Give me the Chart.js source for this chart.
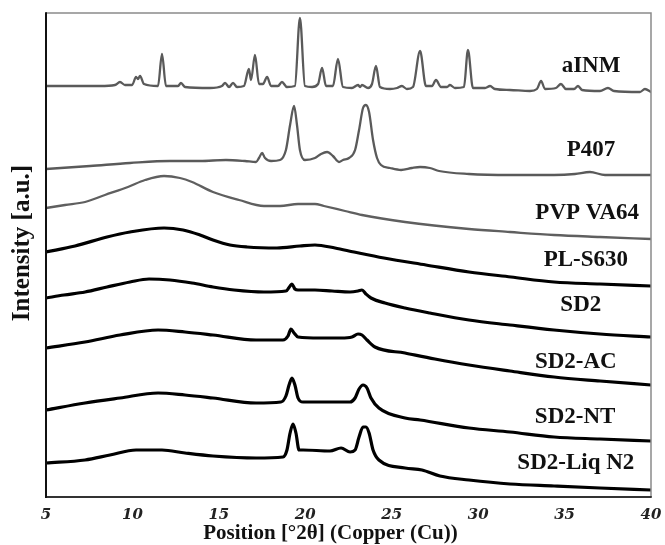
<!DOCTYPE html>
<html>
<head>
<meta charset="utf-8">
<script src="https://cdn.jsdelivr.net/npm/chart.js@4.4.1/dist/chart.umd.min.js"></script>
<style>
  html, body { margin: 0; padding: 0; background: #fff; }
  #wrap { width: 665px; height: 545px; }
</style>
</head>
<body>
<div id="wrap"><canvas id="c" width="665" height="545"></canvas></div>
<script>
// ---- Data (2θ in degrees, stacked intensity in a.u.) ----
const xTicks = [5, 10, 15, 20, 25, 30, 35, 40];
const seriesNames = ["aINM", "P407", "PVP VA64", "PL-S630", "SD2", "SD2-AC", "SD2-NT", "SD2-Liq N2"];

const aINM = [[5.0,411],[8.12,411],[8.99,412],[9.28,415],[9.57,412],[9.98,412],[10.21,420],[10.32,418],[10.44,421],[10.67,413],
  [11.48,411],[11.71,443],[11.94,411],[12.64,411],[12.81,414],[13.04,410],[14.49,409],[15.18,411],[15.36,414],[15.59,410],
  [15.82,414],[16.05,410],[16.45,411],[16.74,428],[16.86,417],[17.09,442],[17.32,413],[17.55,413],[17.79,420],[18.02,411],
  [18.42,411],[18.65,415],[18.94,410],[19.40,411],[19.69,479],[19.98,411],[20.39,410],[20.74,413],[20.97,429],[21.20,411],
  [21.60,411],[21.89,438],[22.18,410],[22.70,409],[23.05,412],[23.17,410],[23.28,412],[23.63,409],[23.86,413],[24.09,431],
  [24.32,410],[24.90,408],[25.31,409],[25.59,411],[25.88,408],[26.23,410],[26.64,446],[26.98,411],[27.33,411],[27.56,417],
  [27.85,410],[28.20,410],[28.37,412],[28.66,409],[29.18,410],[29.41,447],[29.70,409],[30.40,409],[30.69,411],[30.97,408],
  [31.84,407],[33.00,406],[33.40,408],[33.64,416],[33.87,408],[34.50,409],[34.79,413],[35.08,408],[35.55,408],[35.78,411],
  [36.01,407],[37.05,406],[37.51,409],[37.86,406],[39.36,405],[39.65,408],[40.0,405]];

const P407 = [[5.0,328],[7.55,331],[9.86,334],[12.17,336],[13.91,336],[15.41,337],[16.51,336],[17.15,335],[17.32,339],[17.50,344],
  [17.67,339],[18.02,336],[18.54,337],[18.88,347],[19.12,372],[19.35,391],[19.52,372],[19.69,347],[19.98,337],[20.56,339],
  [20.91,343],[21.26,345],[21.60,341],[21.95,335],[22.18,337],[22.53,339],[22.88,347],[23.11,367],[23.34,389],[23.51,392],
  [23.69,385],[23.92,357],[24.15,339],[24.38,332],[24.90,329],[25.54,327],[26.17,329],[26.64,330],[27.21,329],[27.74,326],
  [29.47,323],[31.84,322],[34.39,322],[35.60,323],[36.47,325],[37.34,322],[40.0,322]];

const PVPVA64 = [[5.0,289],[6.10,292],[7.26,295],[8.41,302],[9.74,310],[10.73,317],[11.83,321],[12.75,319],[13.45,315],[14.66,305],
  [16.17,297],[17.61,291],[18.54,291],[19.58,293],[20.56,293],[21.08,291],[22.30,286],[23.28,282],[25.77,275],[29.47,268],
  [31.84,265],[34.39,262],[37.05,260],[40.0,258]];

const PLS630 = [[5.0,245],[6.68,251],[8.53,260],[9.86,265],[11.83,269],[12.93,267],[13.91,262],[14.66,257],[15.64,252],[16.63,250],
  [18.36,249],[19.69,251],[20.56,252],[21.72,249],[22.82,245],[24.55,239],[26.98,232],[29.47,225],[31.90,220],[34.39,215],
  [37.05,213],[40.0,211]];

const SD2 = [[5.0,199],[6.04,202],[7.26,205],[8.53,210],[9.86,215],[10.96,218],[12.17,217],[13.45,214],[14.66,210],[15.88,207],
  [17.61,205],[18.88,206],[19.12,211],[19.23,213],[19.40,208],[19.58,207],[20.56,207],[21.55,206],[22.59,205],[23.05,206],
  [23.28,207],[23.51,203],[23.80,199],[24.61,194],[25.77,189],[27.21,184],[29.47,177],[31.84,172],[34.39,167],[37.05,163],
  [40.0,160]];

const SD2AC = [[5.0,149],[7.26,155],[9.28,162],[11.48,167],[13.04,165],[14.66,162],[17.15,157],[18.71,157],[19.0,161],[19.17,168],
  [19.35,164],[19.58,160],[20.85,159],[22.07,159],[22.70,160],[23.05,163],[23.28,162],[23.57,157],[24.03,150],[25.77,144],
  [27.50,138],[29.47,132],[31.84,126],[34.39,120],[37.05,116],[40.0,112]];

const SD2NT = [[5.0,87],[7.26,94],[9.28,99],[11.48,104],[13.04,102],[14.66,99],[17.15,94],[18.59,95],[18.88,101],[19.06,112],
  [19.23,119],[19.40,112],[19.58,99],[19.87,95],[21.43,95],[22.59,95],[22.88,99],[23.11,108],[23.34,112],[23.57,109],
  [23.80,99],[24.26,89],[25.77,79],[26.64,77],[29.47,69],[31.84,65],[34.39,60],[37.05,58],[40.0,56]];

const SD2LiqN2 = [[5.0,34],[7.26,37],[8.70,42],[10.21,47],[11.71,47],[13.04,44],[14.66,41],[17.15,39],[18.71,40],[18.94,47],
  [19.12,64],[19.29,73],[19.46,64],[19.64,47],[19.87,47],[21.43,46],[22.07,49],[22.59,45],[22.88,47],[23.11,60],
  [23.34,70],[23.51,70],[23.69,64],[23.92,47],[24.26,37],[25.77,29],[26.75,27],[27.79,21],[29.47,17],[31.84,13],
  [34.39,11],[37.05,9],[40.0,7]];

const allSeries = [aINM, P407, PVPVA64, PLS630, SD2, SD2AC, SD2NT, SD2LiqN2];

// ---- styling / layout (kept separate from data) ----
const lineColors = ["#5a5a5a", "#5a5a5a", "#5f5f5f", "#000", "#000", "#000", "#000", "#000"];
const lineWidths = [2.3, 2.3, 2.3, 3.2, 3.2, 3.2, 3.2, 3.2];
// label anchors in data units (2θ, intensity)
const labelAnchors = [[36.53,431],[36.53,347],[36.31,284],[36.23,237],[35.94,192],[35.65,135],[35.61,80],[35.65,34]];

const datasets = allSeries.map((s, i) => ({
  label: seriesNames[i],
  data: s.map(p => ({ x: p[0], y: p[1] })),
  borderColor: lineColors[i],
  borderWidth: lineWidths[i],
  pointRadius: 0,
  fill: false,
  cubicInterpolationMode: 'monotone',
  borderJoinStyle: 'round',
  borderCapStyle: 'round'
}));

const decor = {
  id: 'decor',
  afterDraw(chart) {
    const { ctx, chartArea: a, scales } = chart;
    ctx.save();
    // frame
    ctx.lineCap = 'butt';
    ctx.strokeStyle = '#8a8a8a'; ctx.lineWidth = 1.5;
    ctx.beginPath(); ctx.moveTo(a.left, a.top); ctx.lineTo(a.right, a.top); ctx.lineTo(a.right, a.bottom); ctx.stroke();
    ctx.strokeStyle = '#333'; ctx.lineWidth = 2;
    ctx.beginPath(); ctx.moveTo(a.left, a.bottom); ctx.lineTo(a.right + 0.75, a.bottom); ctx.stroke();
    ctx.strokeStyle = '#111'; ctx.lineWidth = 2;
    ctx.beginPath(); ctx.moveTo(a.left, a.top - 0.75); ctx.lineTo(a.left, a.bottom + 1); ctx.stroke();

    // series labels
    ctx.fillStyle = '#111';
    ctx.font = 'bold 23px "Liberation Serif", "Times New Roman", serif';
    ctx.textAlign = 'center'; ctx.textBaseline = 'middle';
    seriesNames.forEach((n, i) => {
      const px = scales.x.getPixelForValue(labelAnchors[i][0]);
      const py = scales.y.getPixelForValue(labelAnchors[i][1]);
      ctx.fillText(n, px, py);
    });

    // axis titles
    ctx.font = 'bold 21px "Liberation Serif", "Times New Roman", serif';
    ctx.fillText('Position [°2θ] (Copper (Cu))', (a.left + a.right) / 2 - 18, a.bottom + 37);
    ctx.translate(23, (a.top + a.bottom) / 2 - 12);
    ctx.rotate(-Math.PI / 2);
    ctx.font = 'bold 25px "Liberation Serif", "Times New Roman", serif';
    ctx.fillText('Intensity [a.u.]', 0, 0);
    ctx.restore();
  }
};

new Chart(document.getElementById('c'), {
  type: 'line',
  data: { datasets },
  options: {
    responsive: false,
    animation: false,
    devicePixelRatio: 1,
    layout: { padding: { left: 46, right: 14, top: 13, bottom: 0 } },
    plugins: { legend: { display: false }, tooltip: { enabled: false } },
    scales: {
      x: {
        type: 'linear', min: 5, max: 40,
        afterFit(scale) { scale.height = 48; scale.paddingLeft = 0; scale.paddingRight = 0; },
        afterBuildTicks(scale) { scale.ticks = xTicks.map(v => ({ value: v })); },
        grid: { display: false, drawTicks: false },
        border: { display: false },
        ticks: {
          autoSkip: false, maxRotation: 0, padding: 9,
          color: '#222',
          font: { family: '"DejaVu Serif", serif', size: 15, style: 'italic', weight: 'bold' }
        }
      },
      y: { display: false, min: 0, max: 484 }
    }
  },
  plugins: [decor]
});
</script>
</body>
</html>
